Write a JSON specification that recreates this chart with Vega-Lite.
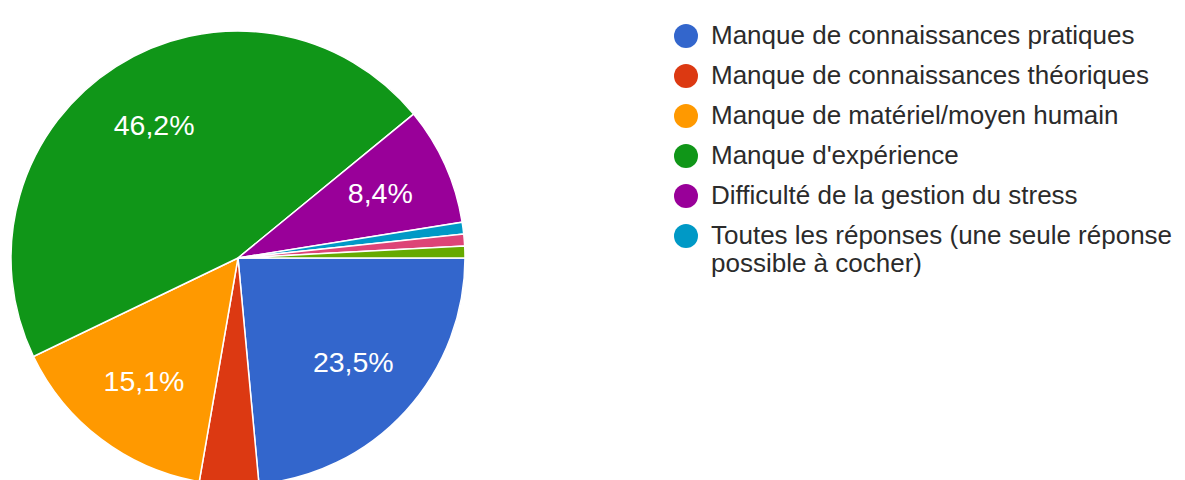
{
  "$schema": "https://vega.github.io/schema/vega-lite/v6.json",
  "width": 476,
  "height": 444,
  "autosize": "none",
  "padding": {"left": 0, "top": 36, "right": 709, "bottom": 0},
  "background": "white",
  "data": {
    "values": [
      {"i": 1, "cat": "Manque de connaissances pratiques", "count": 28, "label": "23,5%"},
      {"i": 2, "cat": "Manque de connaissances théoriques", "count": 5, "label": ""},
      {"i": 3, "cat": "Manque de matériel/moyen humain", "count": 18, "label": "15,1%"},
      {"i": 4, "cat": "Manque d'expérience", "count": 55, "label": "46,2%"},
      {"i": 5, "cat": "Difficulté de la gestion du stress", "count": 10, "label": "8,4%"},
      {"i": 6, "cat": "Toutes les réponses (une seule réponse possible à cocher)", "count": 1, "label": ""},
      {"i": 7, "cat": "Autre réponse", "count": 1, "label": ""},
      {"i": 8, "cat": "Autre", "count": 1, "label": ""}
    ]
  },
  "encoding": {
    "theta": {"field": "count", "type": "quantitative", "stack": true, "scale": {"range": [1.5708, 7.85398]}},
    "order": {"field": "i", "type": "quantitative"},
    "color": {
      "field": "cat",
      "type": "nominal",
      "sort": null,
      "scale": {
        "domain": ["Manque de connaissances pratiques", "Manque de connaissances théoriques", "Manque de matériel/moyen humain", "Manque d'expérience", "Difficulté de la gestion du stress", "Toutes les réponses (une seule réponse possible à cocher)", "Autre réponse", "Autre"],
        "range": ["#3366cc", "#dc3912", "#ff9900", "#109618", "#990099", "#0099c6", "#dd4477", "#66aa00"]
      },
      "legend": {
        "title": null,
        "orient": "none",
        "legendX": 673,
        "legendY": -13,
        "values": ["Manque de connaissances pratiques", "Manque de connaissances théoriques", "Manque de matériel/moyen humain", "Manque d'expérience", "Difficulté de la gestion du stress", "Toutes les réponses (une seule réponse possible à cocher)"],
        "labelExpr": "datum.label == 'Toutes les réponses (une seule réponse possible à cocher)' ? ['Toutes les réponses (une seule réponse', 'possible à cocher)'] : datum.label",
        "labelFont": "Liberation Sans",
        "labelFontSize": 26,
        "labelColor": "#2b2b2b",
        "labelLimit": 900,
        "labelOffset": 12,
        "symbolType": "circle",
        "symbolSize": 576,
        "symbolStrokeWidth": 0,
        "symbolOpacity": 1,
        "rowPadding": 14,
        "padding": 0,
        "encode": {"labels": {"update": {"lineHeight": {"value": 36}}}}
      }
    }
  },
  "layer": [
    {
      "mark": {"type": "arc", "outerRadius": 227, "stroke": "white", "strokeWidth": 1.5}
    },
    {
      "mark": {"type": "text", "radius": 156, "font": "Liberation Sans", "fontSize": 28.5, "color": "white", "align": "center", "baseline": "middle"},
      "encoding": {
        "text": {"field": "label", "type": "nominal"},
        "color": {"value": "white"}
      }
    }
  ],
  "config": {"view": {"stroke": null}}
}
